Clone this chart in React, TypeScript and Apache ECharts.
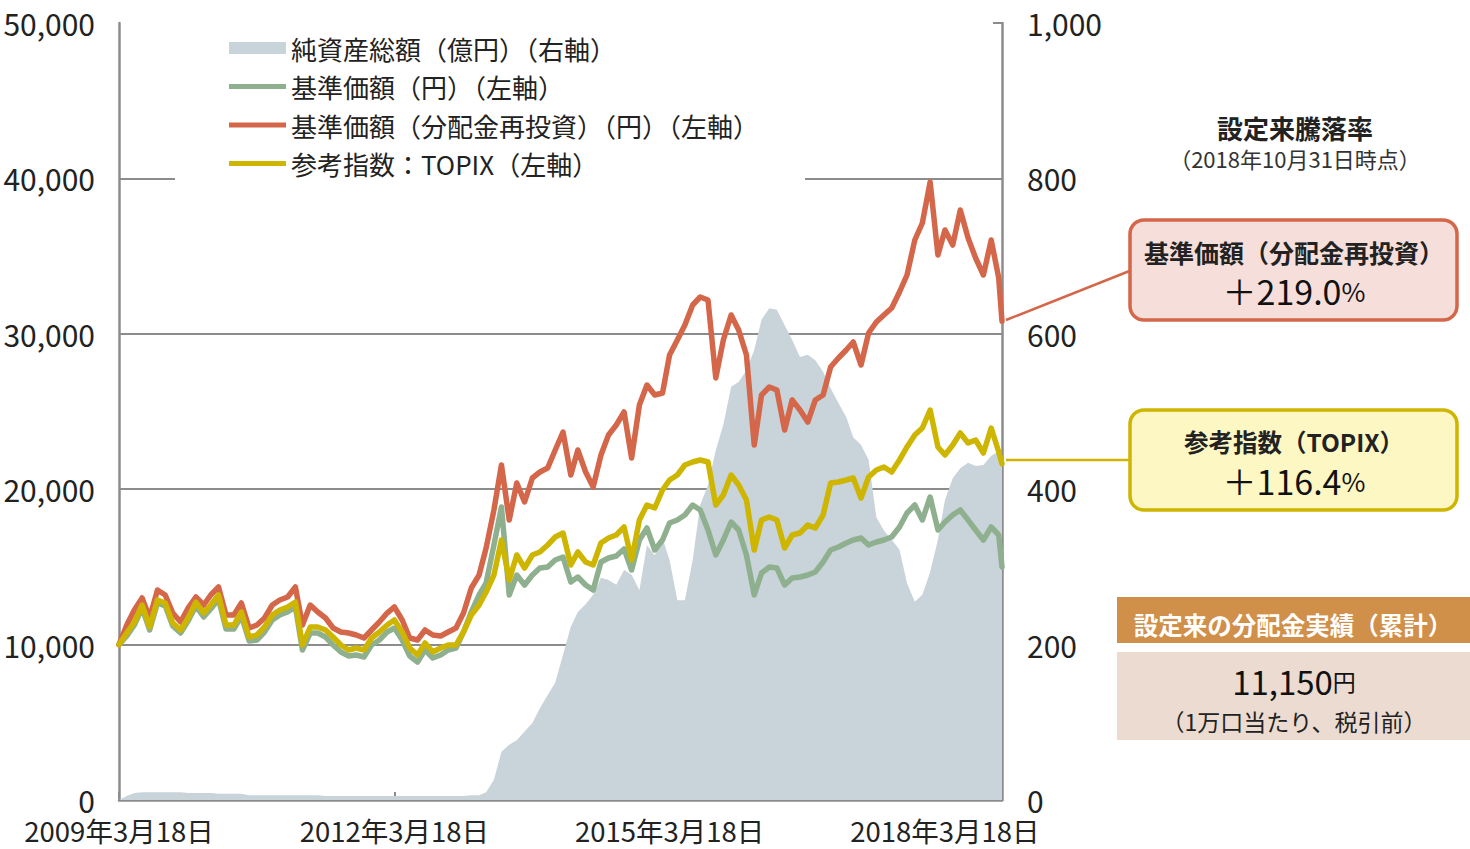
import React, { useEffect, useRef } from "react";
import * as echarts from "echarts";

// ---- data ----
const dates = [
  "2009-03-18","2009-04-18","2009-05-18","2009-06-18","2009-07-18","2009-08-18","2009-09-18","2009-10-18","2009-11-18","2009-12-18",
  "2010-01-18","2010-02-18","2010-03-18","2010-04-18","2010-05-18","2010-06-18","2010-07-18","2010-08-18","2010-09-18","2010-10-18","2010-11-18","2010-12-18",
  "2011-01-18","2011-02-18","2011-03-18","2011-04-18","2011-05-18","2011-06-18","2011-07-18","2011-08-18","2011-09-18","2011-10-18","2011-11-18","2011-12-18",
  "2012-01-18","2012-02-18","2012-03-18","2012-04-18","2012-05-18","2012-06-18","2012-07-18","2012-08-18","2012-09-18","2012-10-18","2012-11-18","2012-12-18",
  "2013-01-18","2013-02-18","2013-03-18","2013-04-18","2013-05-18","2013-06-18","2013-07-18","2013-08-18","2013-09-18","2013-10-18","2013-11-18","2013-12-18",
  "2014-01-18","2014-02-18","2014-03-18","2014-04-18","2014-05-18","2014-06-18","2014-07-18","2014-08-18","2014-09-18","2014-10-18","2014-11-18","2014-12-18",
  "2015-01-18","2015-02-18","2015-03-18","2015-04-18","2015-05-18","2015-06-18","2015-07-18","2015-08-18","2015-09-18","2015-10-18","2015-11-18","2015-12-18",
  "2016-01-18","2016-02-18","2016-03-18","2016-04-18","2016-05-18","2016-06-18","2016-07-18","2016-08-18","2016-09-18","2016-10-18","2016-11-18","2016-12-18",
  "2017-01-18","2017-02-18","2017-03-18","2017-04-18","2017-05-18","2017-06-18","2017-07-18","2017-08-18","2017-09-18","2017-10-18","2017-11-18","2017-12-18",
  "2018-01-18","2018-02-18","2018-03-18","2018-04-18","2018-05-18","2018-06-18","2018-07-18","2018-08-18","2018-09-18","2018-10-18","2018-10-31",
];

// 基準価額（分配金再投資）（円）
const navReinvested = [
  10000, 11261, 12227, 12999, 11712, 13514, 13192, 12033, 11454, 12355,
  13063, 12548, 13192, 13707, 11905, 11905, 12677, 11068, 11261, 11712,
  12548, 12870, 13063, 13707, 11261, 12548, 12098, 11712, 11068, 10811,
  10746, 10618, 10425, 10940, 11454, 12033, 12420, 11583, 10425, 10296,
  10940, 10618, 10553, 10811, 11068, 12033, 13642, 14479, 16216, 18662,
  21557, 18018, 20399, 19176, 20721, 21107, 21364, 22523, 23681, 20914,
  22523, 21107, 20142, 22201, 23488, 24131, 24968, 22008, 25418, 26705,
  26062, 26190, 28636, 29601, 30566, 31853, 32368, 32175, 27156, 29601,
  31210, 30245, 28636, 22844, 26062, 26577, 26384, 23810, 25740, 25097,
  24324, 25740, 26062, 27864, 28443, 28958, 29472, 27992, 30051, 30759,
  31210, 31660, 32690, 33784, 36036, 37130, 39768, 35071, 36680, 35714,
  37967, 36165, 34878, 33784, 36036, 33591, 30800,
];

// 基準価額（円）
const nav = [
  10000, 10553, 11261, 12355, 10940, 12677, 12484, 11197, 10746, 11519,
  12484, 11776, 12291, 12934, 11004, 11004, 11840, 10232, 10296, 10811,
  11583, 11905, 12098, 12420, 9653, 10746, 10746, 10489, 9974, 9524,
  9266, 9331, 9202, 9974, 10296, 10811, 11068, 10296, 9266, 8880,
  9653, 9138, 9331, 9653, 9781, 10811, 12098, 13192, 13964, 16409,
  18855, 13192, 14479, 13835, 14479, 14929, 14994, 15444, 15637, 14028,
  14350, 13835, 13514, 15315, 15573, 15701, 16152, 14801, 16731, 17503,
  16088, 16731, 17825, 18018, 18340, 18983, 18662, 17375, 15766, 16731,
  17889, 17375, 15766, 13192, 14607, 14994, 14929, 13835, 14286, 14350,
  14479, 14672, 15315, 16088, 16281, 16538, 16731, 16860, 16409, 16602,
  16731, 16924, 17568, 18468, 18983, 18018, 19498, 17375, 17889, 18340,
  18662, 18018, 17375, 16731, 17568, 17053, 14994,
];

// 参考指数：TOPIX
const topix = [
  10000, 10746, 11454, 12548, 11133, 12870, 12677, 11390, 10940, 11712,
  12741, 12033, 12548, 13192, 11261, 11261, 12098, 10489, 10618, 11133,
  11905, 12227, 12420, 12741, 9974, 11133, 11133, 10940, 10489, 9974,
  9653, 9781, 9653, 10425, 10811, 11261, 11583, 10811, 9781, 9331,
  10103, 9524, 9781, 9974, 9974, 10811, 11905, 12548, 13385, 14479,
  16731, 14157, 15766, 14929, 15766, 15959, 16409, 16924, 17181, 15122,
  15959, 15315, 15122, 16538, 16860, 17053, 17568, 15444, 18018, 18983,
  18790, 19949, 20592, 20914, 21557, 21750, 21879, 21750, 18983, 19627,
  20914, 20270, 19305, 16088, 18018, 18211, 18018, 16216, 17053, 17181,
  17696, 17503, 18340, 20399, 20463, 20592, 20721, 19434, 20785, 21236,
  21429, 21107, 21879, 22716, 23488, 23938, 25097, 22716, 22201, 22844,
  23616, 22973, 23166, 22329, 23938, 22394, 21640,
];

// 純資産総額（億円）
const netAssets = [
  0, 5, 9, 10, 10, 10, 10, 10, 10, 9,
  9, 9, 9, 8, 8, 8, 8, 6, 6, 6,
  6, 6, 6, 6, 6, 6, 6, 5, 5, 5,
  5, 5, 5, 5, 5, 5, 5, 5, 5, 5,
  5, 5, 5, 5, 5, 5, 6, 6, 10, 26,
  62, 71, 77, 88, 99, 118, 135, 151, 187, 223,
  242, 252, 264, 286, 283, 277, 296, 290, 270, 328,
  315, 337, 309, 257, 257, 309, 380, 405, 450, 483,
  532, 538, 553, 579, 618, 633, 631, 611, 592, 570,
  573, 566, 551, 530, 511, 493, 467, 457, 438, 364,
  347, 335, 322, 279, 255, 264, 293, 335, 386, 414,
  427, 434, 430, 431, 443, 449, 444,
];

const xStart = "2009-03-18";
const xEnd = "2018-10-31";
const xTickDates = ["2009-03-18", "2012-03-18", "2015-03-18", "2018-03-18"];
const xTickLabels = ["2009年3月18日", "2012年3月18日", "2015年3月18日", "2018年3月18日"];

const seriesNames = [
  "純資産総額（億円）（右軸）",
  "基準価額（円）（左軸）",
  "基準価額（分配金再投資）（円）（左軸）",
  "参考指数：TOPIX（左軸）",
];

const returnTitle = "設定来騰落率";
const returnDate = "（2018年10月31日時点）";
const navReturnLabel = "基準価額（分配金再投資）";
const navReturnValue = "＋219.0";
const topixReturnLabel = "参考指数（TOPIX）";
const topixReturnValue = "＋116.4";
const distTitle = "設定来の分配金実績（累計）";
const distValue = "11,150";
const distNote = "（1万口当たり、税引前）";

const C_AREA = "#c8d3da";
const C_GREEN = "#8fb08e";
const C_RED = "#d4664a";
const C_YELLOW = "#cdb500";
const C_AXIS = "#8c8c8c";
const JP = '"Noto Sans CJK JP", "Noto Sans", sans-serif';

const comma = (v: number) => String(v).replace(/\B(?=(\d{3})+(?!\d))/g, ",");
const ts = (d: string) => echarts.time.parse(d).getTime();

export default function App() {
  const ref = useRef<HTMLDivElement>(null);
  useEffect(() => {
    if (!ref.current) return;
    const chart = echarts.init(ref.current, undefined, { renderer: "svg" });
    const tickTs = xTickDates.map(ts);
    const pair = (arr: number[]) => dates.map((d, i) => [ts(d), arr[i]]);
    const linePath = "path://M0,0L57,0L57,5L0,5Z";

    chart.setOption({
      animation: false,
      textStyle: { fontFamily: JP },
      grid: { left: 119, right: 468, top: 23, bottom: 49, containLabel: false, outerBoundsMode: "none" },
      legend: {
        orient: "vertical",
        left: 175,
        top: 27,
        padding: [6, 46, 6, 54],
        backgroundColor: "#ffffff",
        itemWidth: 57,
        itemHeight: 12,
        itemGap: 8.5,
        selectedMode: false,
        textStyle: { fontSize: 26, color: "#222", fontFamily: JP, lineHeight: 30 },
        data: [
          { name: seriesNames[0], icon: "rect", itemStyle: { color: C_AREA, borderWidth: 0 } },
          { name: seriesNames[1], icon: linePath, itemStyle: { color: C_GREEN, borderWidth: 0 } },
          { name: seriesNames[2], icon: linePath, itemStyle: { color: C_RED, borderWidth: 0 } },
          { name: seriesNames[3], icon: linePath, itemStyle: { color: C_YELLOW, borderWidth: 0 } },
        ],
      },
      xAxis: {
        type: "value",
        min: ts(xStart),
        max: ts(xEnd),
        scale: true,
        axisLine: { show: true, lineStyle: { color: C_AXIS, width: 2.5 } },
        axisTick: {
          show: true,
          inside: true,
          length: 8,
          customValues: tickTs,
          lineStyle: { color: C_AXIS, width: 2 },
        },
        axisLabel: {
          show: true,
          customValues: tickTs,
          margin: 18,
          fontSize: 27.5,
          lineHeight: 24,
          color: "#222",
          fontFamily: JP,
          formatter: (v: number) => {
            const i = tickTs.findIndex((t) => Math.abs(t - v) < 86400000);
            return i >= 0 ? xTickLabels[i] : "";
          },
        },
        splitLine: { show: false },
      },
      yAxis: [
        {
          type: "value",
          min: 0,
          max: 50000,
          interval: 10000,
          position: "left",
          axisLine: { show: true, lineStyle: { color: C_AXIS, width: 2.5 } },
          axisTick: { show: false },
          axisLabel: { margin: 24, fontSize: 30, lineHeight: 24, color: "#222", fontFamily: JP, formatter: (v: number) => comma(v) },
          splitLine: {
            show: true,
            lineStyle: { color: [C_AXIS, C_AXIS, C_AXIS, C_AXIS, C_AXIS, "rgba(0,0,0,0)"], width: 2 },
          },
        },
        {
          type: "value",
          min: 0,
          max: 1000,
          interval: 200,
          position: "right",
          axisLine: { show: true, lineStyle: { color: C_AXIS, width: 2.5 } },
          axisTick: { show: true, inside: true, length: 9, lineStyle: { color: C_AXIS, width: 2 } },
          axisLabel: { margin: 25, fontSize: 30, lineHeight: 24, color: "#222", fontFamily: JP, formatter: (v: number) => comma(v) },
          splitLine: { show: false },
        },
      ],
      series: [
        {
          name: seriesNames[0],
          type: "line",
          yAxisIndex: 1,
          data: pair(netAssets),
          symbol: "none",
          color: C_AREA,
          lineStyle: { width: 0, color: C_AREA },
          areaStyle: { color: C_AREA, opacity: 1 },
          z: 1,
        },
        {
          name: seriesNames[1],
          type: "line",
          yAxisIndex: 0,
          data: pair(nav),
          symbol: "none",
          color: C_GREEN,
          lineStyle: { width: 5.5, color: C_GREEN, cap: "round", join: "round" },
          z: 2,
        },
        {
          name: seriesNames[2],
          type: "line",
          yAxisIndex: 0,
          data: pair(navReinvested),
          symbol: "none",
          color: C_RED,
          lineStyle: { width: 5.5, color: C_RED, cap: "round", join: "round" },
          z: 3,
        },
        {
          name: seriesNames[3],
          type: "line",
          yAxisIndex: 0,
          data: pair(topix),
          symbol: "none",
          color: C_YELLOW,
          lineStyle: { width: 5.5, color: C_YELLOW, cap: "round", join: "round" },
          z: 4,
        },
      ],
      graphic: [
        { type: "line", shape: { x1: 1006, y1: 320, x2: 1132, y2: 270 }, style: { stroke: C_RED, lineWidth: 2.5 } },
        { type: "line", shape: { x1: 1006, y1: 460, x2: 1132, y2: 460 }, style: { stroke: C_YELLOW, lineWidth: 2.5 } },
        {
          type: "text",
          x: 1295,
          y: 127,
          style: { text: returnTitle, align: "center", verticalAlign: "middle", fontSize: 26, lineHeight: 26, fontWeight: "bold", fontFamily: JP, fill: "#222" },
        },
        {
          type: "text",
          x: 1295,
          y: 158,
          style: { text: returnDate, align: "center", verticalAlign: "middle", fontSize: 22, lineHeight: 22, fontFamily: JP, fill: "#333" },
        },
        {
          type: "rect",
          shape: { x: 1130, y: 220, width: 327, height: 100, r: 14 },
          style: { fill: "#f6dfdb", stroke: C_RED, lineWidth: 3.5 },
        },
        {
          type: "text",
          x: 1294,
          y: 252,
          style: { text: navReturnLabel, align: "center", verticalAlign: "middle", fontSize: 25, lineHeight: 26, fontWeight: "bold", fontFamily: JP, fill: "#222" },
        },
        {
          type: "text",
          x: 1294,
          y: 290,
          style: {
            text: "{a|" + navReturnValue + "}{b|%}",
            align: "center",
            verticalAlign: "middle",
            fill: "#111",
            rich: {
              a: { fontSize: 34, lineHeight: 34, fontFamily: JP, fill: "#111" },
              b: { fontSize: 26, lineHeight: 34, fontFamily: JP, fill: "#111" },
            },
          },
        },
        {
          type: "rect",
          shape: { x: 1130, y: 410, width: 327, height: 100, r: 14 },
          style: { fill: "#fdf7c3", stroke: C_YELLOW, lineWidth: 3.5 },
        },
        {
          type: "text",
          x: 1294,
          y: 441,
          style: { text: topixReturnLabel, align: "center", verticalAlign: "middle", fontSize: 24.5, lineHeight: 26, fontWeight: "bold", fontFamily: JP, fill: "#222" },
        },
        {
          type: "text",
          x: 1294,
          y: 480,
          style: {
            text: "{a|" + topixReturnValue + "}{b|%}",
            align: "center",
            verticalAlign: "middle",
            fill: "#111",
            rich: {
              a: { fontSize: 34, lineHeight: 34, fontFamily: JP, fill: "#111" },
              b: { fontSize: 26, lineHeight: 34, fontFamily: JP, fill: "#111" },
            },
          },
        },
        {
          type: "rect",
          shape: { x: 1117, y: 597, width: 353, height: 46 },
          style: { fill: "#d0904a" },
        },
        {
          type: "text",
          x: 1293,
          y: 624,
          style: { text: distTitle, align: "center", verticalAlign: "middle", fontSize: 24.5, lineHeight: 26, fontWeight: "bold", fontFamily: JP, fill: "#ffffff" },
        },
        {
          type: "rect",
          shape: { x: 1117, y: 652, width: 353, height: 88 },
          style: { fill: "#ecdbd0" },
        },
        {
          type: "text",
          x: 1294,
          y: 681,
          style: {
            text: "{a|" + distValue + "}{b|円}",
            align: "center",
            verticalAlign: "middle",
            fill: "#111",
            rich: {
              a: { fontSize: 33, lineHeight: 30, fontFamily: JP, fill: "#111" },
              b: { fontSize: 23, lineHeight: 30, fontFamily: JP, fill: "#111" },
            },
          },
        },
        {
          type: "text",
          x: 1294,
          y: 721,
          style: { text: distNote, align: "center", verticalAlign: "middle", fontSize: 23, lineHeight: 23, fontFamily: JP, fill: "#222" },
        },
      ],
    });
    return () => chart.dispose();
  }, []);

  return (
    <div
      ref={ref}
      style={{ position: "fixed", left: 0, top: 0, width: 1470, height: 849, background: "#ffffff" }}
    />
  );
}
